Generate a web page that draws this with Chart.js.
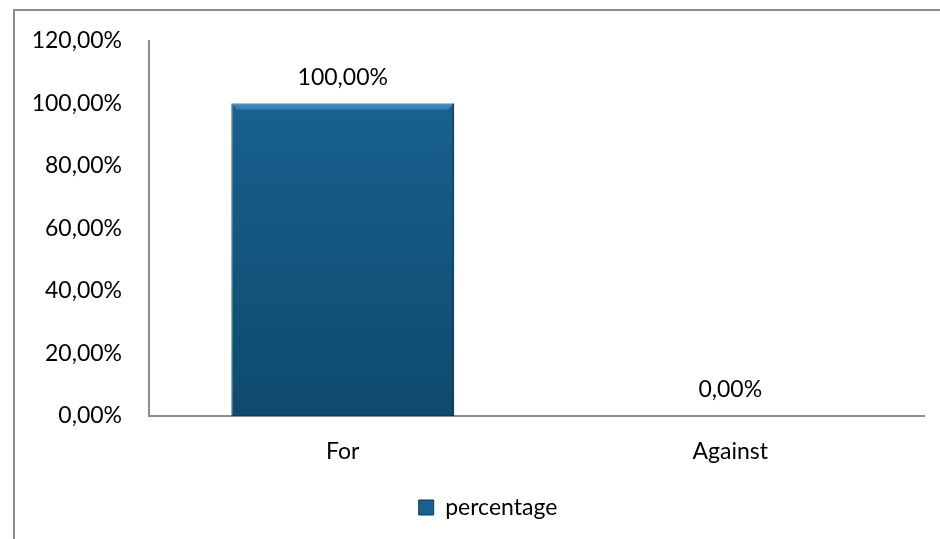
<!DOCTYPE html>
<html>
<head>
<meta charset="utf-8">
<script src="https://cdn.jsdelivr.net/npm/chart.js@4"></script>
<style>
  html, body { margin: 0; padding: 0; background: #fff; overflow: hidden; }
  #wrap { position: relative; width: 940px; height: 539px; }
  #frame { position: absolute; left: 13px; top: 9px; width: 1000px; height: 600px; border: 2px solid #8c8c8c; box-sizing: border-box; }
  canvas { position: absolute; left: 0; top: 0; }
</style>
</head>
<body>
<div id="wrap">
  <div id="frame"></div>
  <canvas id="voteChart" width="940" height="539"></canvas>
</div>
<script>
var categories = ['For', 'Against'];
var percentages = [100, 0];
var seriesName = 'percentage';
var yMin = 0, yMax = 120, yStep = 20;

var FONT = { family: 'Lato', size: 23 };

function pct(v) {
    return v.toFixed(2).replace('.', ',') + '%';
}

// vertical blue gradient for the bars
function barFill(context) {
    var chart = context.chart;
    var area = chart.chartArea;
    if (!area) return '#155b86';
    var g = chart.ctx.createLinearGradient(0, area.top, 0, area.bottom);
    g.addColorStop(0, '#1a6596');
    g.addColorStop(1, '#0e4a6d');
    return g;
}

// bevel highlight on top of each bar plus the value labels
var barDecor = {
    id: 'barDecor',
    afterLayout: function(chart) {
        // legend sits a little right of the canvas centre
        var shift = 26;
        chart.legend.left += shift;
        chart.legend.right += shift;
    },
    afterDatasetsDraw: function(chart) {
        var ctx = chart.ctx;
        var meta = chart.getDatasetMeta(0);
        meta.data.forEach(function(bar, i) {
            var half = bar.width / 2;
            var h = bar.base - bar.y;
            if (h > 8) {
                ctx.save();
                ctx.fillStyle = 'rgba(90,160,215,0.55)';
                ctx.beginPath();
                ctx.moveTo(bar.x - half, bar.y);
                ctx.lineTo(bar.x + half, bar.y);
                ctx.lineTo(bar.x + half - 6, bar.y + 6);
                ctx.lineTo(bar.x - half + 6, bar.y + 6);
                ctx.closePath();
                ctx.fill();
                ctx.fillStyle = 'rgba(0,30,55,0.35)';
                ctx.fillRect(bar.x + half - 2, bar.y, 2, h);
                ctx.restore();
            }
            ctx.save();
            ctx.font = FONT.size + 'px ' + FONT.family;
            ctx.fillStyle = '#000';
            ctx.textAlign = 'center';
            ctx.textBaseline = 'alphabetic';
            ctx.fillText(pct(percentages[i]), bar.x, bar.y - 19);
            ctx.restore();
        });
    }
};

var ctx = document.getElementById('voteChart').getContext('2d');
var voteChart = new Chart(ctx, {
    type: 'bar',
    data: {
        labels: categories,
        datasets: [{
            label: seriesName,
            data: percentages,
            backgroundColor: barFill,
            borderColor: '#0b3d5c',
            borderWidth: 1,
            borderSkipped: false,
            barPercentage: 0.575,
            categoryPercentage: 1
        }]
    },
    options: {
        responsive: false,
        animation: false,
        layout: { padding: { top: 41, right: 16, left: 0, bottom: 10 } },
        scales: {
            x: {
                grid: { display: false, drawTicks: false },
                border: { color: '#8c8c8c', width: 2 },
                ticks: { color: '#000', font: FONT, padding: 22 },
                afterFit: function(scale) { scale.height = 70; }
            },
            y: {
                min: yMin,
                max: yMax,
                grid: { display: false, drawTicks: false },
                border: { color: '#8c8c8c', width: 2 },
                ticks: {
                    stepSize: yStep,
                    color: '#000',
                    font: FONT,
                    padding: 27,
                    callback: function(v) { return pct(v); }
                },
                afterFit: function(scale) { scale.width = 149; }
            }
        },
        plugins: {
            tooltip: { enabled: false },
            legend: {
                position: 'bottom',
                labels: {
                    color: '#000',
                    font: FONT,
                    boxWidth: 15,
                    boxHeight: 15,
                    padding: 10,
                    generateLabels: function(chart) {
                        return [{
                            text: seriesName,
                            fillStyle: '#1a5f8e',
                            strokeStyle: '#0b3d5c',
                            lineWidth: 1,
                            datasetIndex: 0
                        }];
                    }
                }
            }
        }
    },
    plugins: [barDecor]
});
</script>
</body>
</html>
